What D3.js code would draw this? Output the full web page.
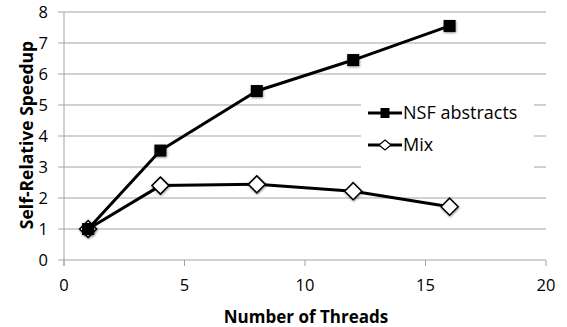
<!DOCTYPE html>
<html><head><meta charset="utf-8">
<script src="https://cdn.jsdelivr.net/npm/d3@7"></script>
<style>body{margin:0;background:#fff}svg{display:block}</style>
</head><body>
<script>
const threads = [1, 4, 8, 12, 16];
const nsfAbstracts = [1, 3.53, 5.45, 6.45, 7.55];
const mix = [1, 2.4, 2.44, 2.22, 1.72];
const xTicks = [0, 5, 10, 15, 20];
const yTicks = [0, 1, 2, 3, 4, 5, 6, 7, 8];
const seriesNames = ["NSF abstracts", "Mix"];

const W = 567, H = 327;
const font = "'Open Sans', sans-serif";
const svg = d3.select("body").append("svg").attr("width", W).attr("height", H);

const defs = svg.append("defs");
const f = defs.append("filter").attr("id", "sh").attr("x", "-50%").attr("y", "-50%").attr("width", "200%").attr("height", "200%");
f.append("feDropShadow").attr("dx", 0.5).attr("dy", 1).attr("stdDeviation", 1.3).attr("flood-color", "#000").attr("flood-opacity", 0.45);

const x = d3.scaleLinear().domain([0, 20]).range([64, 546]);
const y = d3.scaleLinear().domain([0, 8]).range([260, 12]);
const grid = "#a3a3a3";

// gridlines
svg.append("g").selectAll("line").data(yTicks).join("line")
  .attr("x1", 58).attr("x2", x(20)).attr("y1", d => y(d)).attr("y2", d => y(d))
  .attr("stroke", grid).attr("stroke-width", 1);

// y axis line
svg.append("line").attr("x1", x(0)).attr("x2", x(0)).attr("y1", y(8)).attr("y2", y(0) + 6)
  .attr("stroke", grid);
// x ticks
svg.append("g").selectAll("line").data(xTicks).join("line")
  .attr("x1", d => x(d)).attr("x2", d => x(d)).attr("y1", y(0)).attr("y2", y(0) + 6)
  .attr("stroke", grid);

// tick labels
svg.append("g").selectAll("text").data(yTicks).join("text")
  .attr("x", 48).attr("y", d => y(d)).attr("dy", "0.36em").attr("text-anchor", "end")
  .attr("font-family", font).attr("font-size", 16.5).attr("fill", "#000").text(d => d);
svg.append("g").selectAll("text").data(xTicks).join("text")
  .attr("x", d => x(d)).attr("y", 291).attr("text-anchor", "middle")
  .attr("font-family", font).attr("font-size", 16.5).attr("fill", "#000").text(d => d);

// axis titles
svg.append("text").attr("x", 306).attr("y", 323).attr("text-anchor", "middle")
  .attr("font-family", font).attr("font-weight", "bold").attr("font-size", 17).text("Number of Threads");
svg.append("text").attr("transform", `translate(33,135) rotate(-90)`).attr("text-anchor", "middle")
  .attr("font-family", font).attr("font-weight", "bold").attr("font-size", 17.5).text("Self-Relative Speedup");

const line = d3.line().x(d => x(d[0])).y(d => y(d[1]));
const d1 = threads.map((t, i) => [t, nsfAbstracts[i]]);
const d2 = threads.map((t, i) => [t, mix[i]]);

svg.append("path").attr("d", line(d2)).attr("fill", "none").attr("stroke", "#000").attr("stroke-width", 3).attr("stroke-linejoin", "round");
svg.append("path").attr("d", line(d1)).attr("fill", "none").attr("stroke", "#000").attr("stroke-width", 3).attr("stroke-linejoin", "round");

const diamond = (w, h) => `M0,${-h}L${w},0L0,${h}L${-w},0Z`;
svg.append("g").selectAll("path").data(d2).join("path")
  .attr("transform", d => `translate(${x(d[0])},${y(d[1])})`).attr("d", diamond(8.5, 8.5))
  .attr("fill", "#fff").attr("stroke", "#000").attr("stroke-width", 1.5).attr("filter", "url(#sh)");
svg.append("g").selectAll("rect").data(d1).join("rect")
  .attr("x", d => x(d[0]) - 6).attr("y", d => y(d[1]) - 6).attr("width", 12).attr("height", 12)
  .attr("fill", "#000").attr("filter", "url(#sh)");

// legend
const lg = svg.append("g");
lg.append("rect").attr("x", 361).attr("y", 100).attr("width", 173).attr("height", 69).attr("fill", "#fff");
const ly = [113, 145];
seriesNames.forEach((n, i) => {
  lg.append("line").attr("x1", 368).attr("x2", 402).attr("y1", ly[i]).attr("y2", ly[i]).attr("stroke", "#000").attr("stroke-width", 3);
  if (i === 0) lg.append("rect").attr("x", 380.5).attr("y", ly[i] - 5).attr("width", 9).attr("height", 10).attr("fill", "#000");
  else lg.append("path").attr("transform", `translate(385,${ly[i]})`).attr("d", diamond(6, 5)).attr("fill", "#fff").attr("stroke", "#000").attr("stroke-width", 1.2);
  lg.append("text").attr("x", 403).attr("y", ly[i]).attr("dy", "0.36em")
    .attr("font-family", font).attr("font-size", 18).attr("fill", "#000").text(n);
});
</script>
</body></html>
